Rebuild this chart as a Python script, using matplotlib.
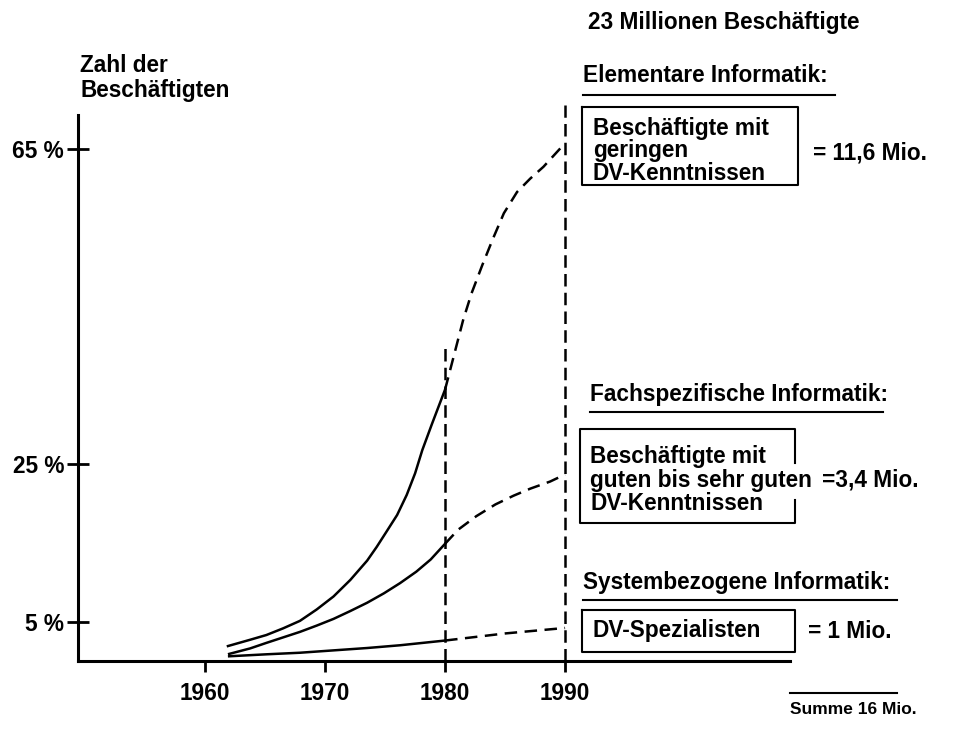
import matplotlib
matplotlib.use("Agg")
import matplotlib.pyplot as plt
from matplotlib.lines import Line2D
from matplotlib.transforms import Affine2D

# =========================
# DATA
# =========================

# Elementare Informatik - Beschaeftigte mit geringen DV-Kenntnissen
elem_years = [1961.9, 1963.75, 1965.1, 1966.5, 1967.9, 1969.3, 1970.7, 1972.1,
              1973.5, 1974.3, 1975.1, 1976.0, 1976.8, 1977.5, 1978.1, 1978.9, 1980]
elem_vals = [1.9, 2.7, 3.3, 4.15, 5.1, 6.55, 8.2, 10.3,
             12.75, 14.5, 16.4, 18.55, 21.1, 23.85, 26.8, 30.1, 34.5]
elem_years_fc = [1980, 1981.5, 1982.2, 1983.1, 1984.0, 1984.9, 1986.0, 1987.1, 1988.2, 1990]
elem_vals_fc = [34.5, 43.3, 46.7, 50.3, 53.7, 56.9, 59.6, 61.3, 62.8, 65.8]

# Fachspezifische Informatik
fach_years = [1962.0, 1963.75, 1965.1, 1966.5, 1967.9, 1969.3, 1970.7, 1972.1,
              1973.5, 1974.9, 1976.25, 1977.6, 1978.8, 1980]
fach_vals = [0.9, 1.6, 2.3, 3.0, 3.7, 4.5, 5.35, 6.35,
             7.4, 8.6, 9.9, 11.35, 12.9, 14.9]
fach_years_fc = [1980, 1981.1, 1982.6, 1984.2, 1985.7, 1987.1, 1988.75, 1990]
fach_vals_fc = [14.9, 16.7, 18.4, 19.9, 21.0, 21.9, 22.8, 23.7]

# Systembezogene Informatik
sys_years = [1962.0, 1965.1, 1967.9, 1970.7, 1973.5, 1976.25, 1980]
sys_vals = [0.6, 0.85, 1.05, 1.35, 1.65, 2.0, 2.6]
sys_years_fc = [1980, 1985, 1990]
sys_vals_fc = [2.6, 3.5, 4.2]

x_ticks = [1960, 1970, 1980, 1990]
y_ticks = [5, 25, 65]
y_ticklabels = ["5 %", "25 %", "65 %"]

# =========================
# FIGURE
# =========================

W, H = 960, 731
FS = 16.3
plt.rcParams['font.family'] = ['Liberation Sans', 'DejaVu Sans']
plt.rcParams['font.weight'] = 'bold'

fig = plt.figure(figsize=(W / 100, H / 100), dpi=100)
ax = fig.add_axes([78 / W, (H - 661) / H, (790 - 78) / W, 72 * 7.87 / H])

ax.set_xlim(1949.4, 2008.75)
ax.set_ylim(0, 72)

lw_axis = 2.2
for s in ['top', 'right']:
    ax.spines[s].set_visible(False)
ax.spines['left'].set_linewidth(lw_axis)
ax.spines['bottom'].set_linewidth(lw_axis)
ax.spines['left'].set_bounds(0, 69.4)

ax.set_xticks(x_ticks)
ax.set_xticklabels([str(y) for y in x_ticks], fontsize=FS, fontweight='bold')
ax.set_yticks(y_ticks)
ax.set_yticklabels(y_ticklabels, fontsize=FS, fontweight='bold')
ax.tick_params(axis='x', direction='out', length=8, width=2, pad=7)
ax.tick_params(axis='y', direction='inout', length=16, width=2, pad=2)

# =========================
# CURVES
# =========================

lw = 1.8
dash = (0, (5, 3))
ax.plot(elem_years, elem_vals, color='black', lw=lw)
ax.plot(elem_years_fc, elem_vals_fc, color='black', lw=lw, linestyle=dash)
ax.plot(fach_years, fach_vals, color='black', lw=lw)
ax.plot(fach_years_fc, fach_vals_fc, color='black', lw=lw, linestyle=dash)
ax.plot(sys_years, sys_vals, color='black', lw=lw)
ax.plot(sys_years_fc, sys_vals_fc, color='black', lw=lw, linestyle=dash)

# vertical marker lines
ax.plot([1980, 1980], [0, 40.4], color='black', lw=lw, linestyle=(0, (5, 2.5)))
ax.plot([1990, 1990], [0, 70.6], color='black', lw=lw, linestyle=(0, (5, 2.5)))

# =========================
# TEXT AND BOXES (pixel coordinates, y from top)
# =========================

px = Affine2D().scale(1 / W, -1 / H).translate(0, 1) + fig.transFigure


def text(x, y, s, size=FS, **kw):
    fig.text(x, y, s, transform=px, fontsize=size, fontweight='bold',
             va='center', ha='left', **kw)


def line(xs, ys, lw=1.5):
    fig.add_artist(Line2D(xs, ys, transform=px, color='black', lw=lw))


text(588, 22, "23 Millionen Beschäftigte")
text(80, 65, "Zahl der")
text(80, 90, "Beschäftigten")

# Elementare Informatik
text(583, 76, "Elementare Informatik:")
line([583, 835], [95, 95])
line([582, 798, 798, 582, 582], [107, 107, 185, 185, 107])
text(593, 128, "Beschäftigte mit")
text(593, 151, "geringen")
text(593, 173, "DV-Kenntnissen")
text(813, 153, "= 11,6 Mio.")

# Fachspezifische Informatik
text(590, 395, "Fachspezifische Informatik:")
line([590, 883], [412, 412])
line([795, 795, 580, 580, 795, 795], [500, 523, 523, 429, 429, 463])
text(590, 457, "Beschäftigte mit")
text(590, 480, "guten bis sehr guten")
text(590, 503, "DV-Kenntnissen")
text(822, 480, "=3,4 Mio.")

# Systembezogene Informatik
text(583, 583, "Systembezogene Informatik:")
line([583, 897], [600, 600])
line([582, 795, 795, 582, 582], [610, 610, 652, 652, 610])
text(592, 631, "DV-Spezialisten")
text(808, 632, "= 1 Mio.")

# Summe
line([790, 897], [693, 693])
text(790, 710, "Summe 16 Mio.", size=12.5)

fig.savefig("out.png", dpi=100)
